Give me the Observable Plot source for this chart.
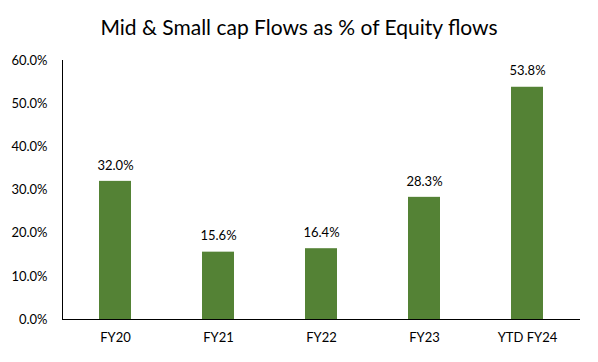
<!DOCTYPE html>
<html>
<head>
<meta charset="utf-8">
<script src="https://cdn.jsdelivr.net/npm/d3@7"></script>
<script src="https://cdn.jsdelivr.net/npm/@observablehq/plot@0.6"></script>
<style>
  body { margin: 0; background: #fff; font-family: Lato, "Open Sans", sans-serif; }
  #title { height: 45px; line-height: 54px; text-align: center; font-size: 21px; color: #000; width: 598px; }
</style>
</head>
<body>
<div id="title">Mid &amp; Small cap Flows as % of Equity flows</div>
<div id="chart"></div>
<script>
const categories = ["FY20", "FY21", "FY22", "FY23", "YTD FY24"];
const values = [32.0, 15.6, 16.4, 28.3, 53.8];
const yTicks = [0, 10, 20, 30, 40, 50, 60];

const data = categories.map((c, i) => ({cat: c, val: values[i]}));

const chart = Plot.plot({
  width: 598,
  height: 317,
  marginTop: 15,
  marginBottom: 43,
  marginLeft: 62,
  marginRight: 18,
  style: {fontFamily: "Lato, 'Open Sans', sans-serif", fontSize: "13px", color: "#000"},
  x: {domain: categories, paddingInner: 0.69, paddingOuter: 0.345, label: null, tickSize: 0, tickPadding: 13},
  y: {domain: [0, 60], ticks: yTicks, tickFormat: d => d.toFixed(1) + "%", label: null, tickSize: 0, tickPadding: 15},
  marks: [
    Plot.barY(data, {x: "cat", y: "val", fill: "#548235"}),
    Plot.text(data, {x: "cat", y: "val", text: d => d.val.toFixed(1) + "%", dy: -16, fontSize: 13, fill: "#000"}),
    Plot.ruleY([0], {stroke: "#000", strokeWidth: 1}),
    Plot.frame({anchor: "left", stroke: "#000", strokeWidth: 1})
  ]
});
document.getElementById("chart").appendChild(chart);
</script>
</body>
</html>
